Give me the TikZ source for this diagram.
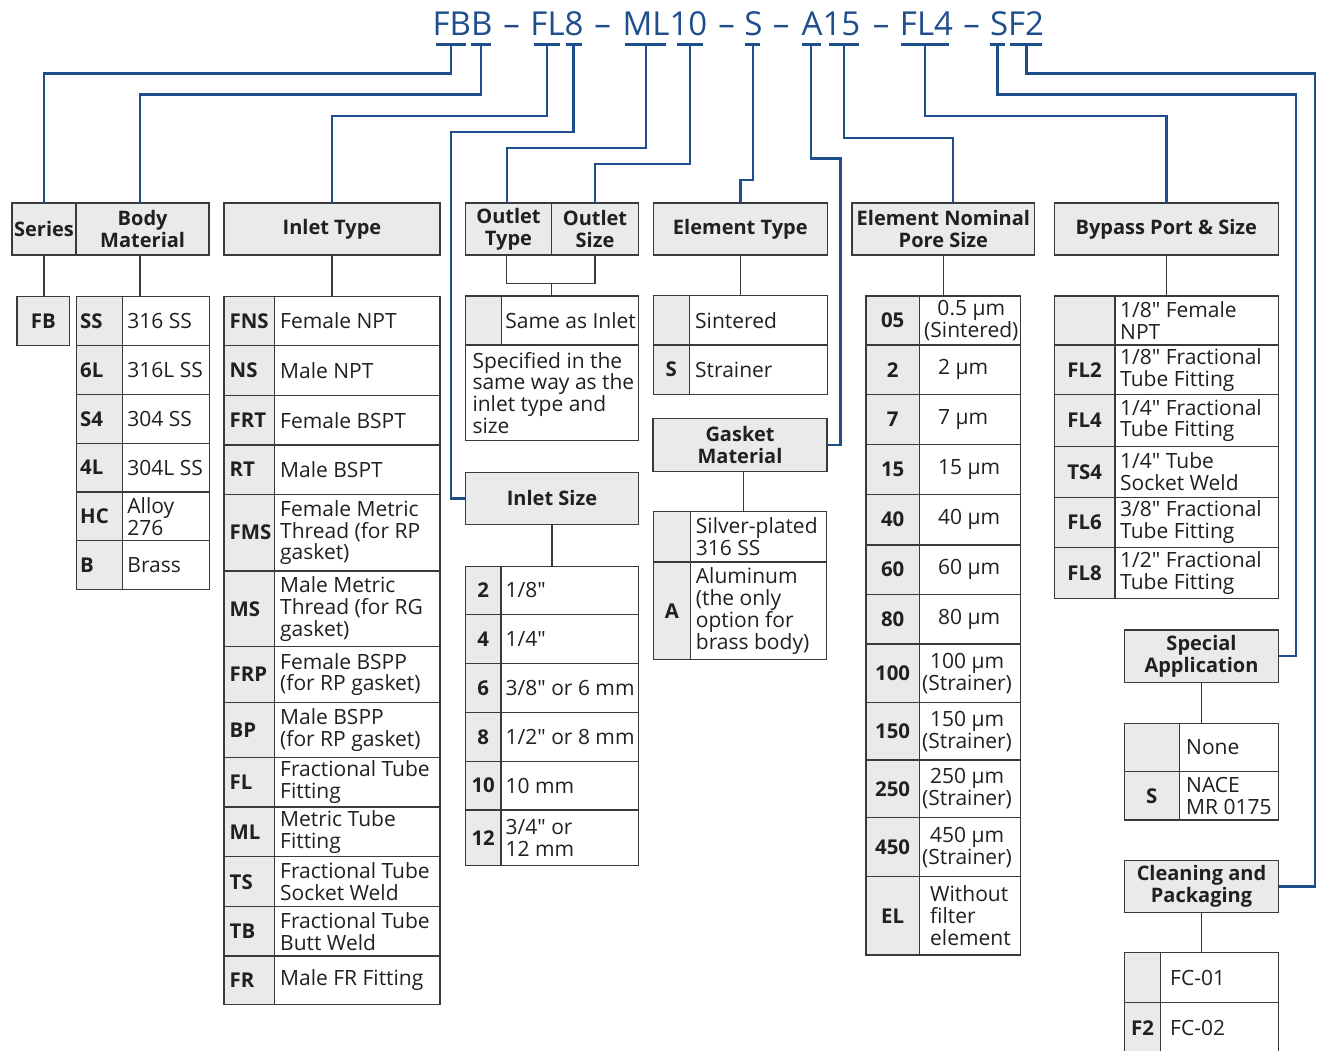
\documentclass[tikz,border=0pt]{standalone}
\usepackage{fontspec}
\setmainfont{Open Sans}[Ligatures=TeXOff]
\definecolor{partblue}{HTML}{1F4E8D}
\definecolor{boxline}{HTML}{3A3A3A}
\definecolor{codefill}{HTML}{E9EAEB}
\definecolor{inkc}{HTML}{231F20}
\tikzset{
  hdr/.style={draw=boxline, line width=1.5pt, fill=codefill, text=inkc, align=center,
    font=\bfseries\fontsize{20}{22}\selectfont, inner sep=0pt, outer sep=0pt},
  codecell/.style={draw=boxline, line width=1.5pt, fill=codefill, text=inkc,
    font=\bfseries\fontsize{20.4}{22}\selectfont, inner sep=0pt, outer sep=0pt, anchor=north west},
  desccell/.style={draw=boxline, line width=1.5pt, fill=white, text=inkc, align=center,
    font=\fontsize{21}{21.8}\selectfont, inner sep=0pt, outer sep=0pt, anchor=north west},
  codetxt/.style={text=inkc, font=\bfseries\fontsize{20.4}{22}\selectfont, inner sep=0pt, anchor=west},
  desctxt/.style={text=inkc, font=\fontsize{21}{21.8}\selectfont, align=left, inner sep=0pt, anchor=west},
  link/.style={draw=boxline, line width=1.5pt},
  bus/.style={draw=partblue, line width=2.4pt},
  ptitle/.style={text=partblue, font=\fontsize{33}{36}\selectfont, inner sep=0pt, anchor=base}
}
\begin{document}
\begin{tikzpicture}[x=1pt,y=-1pt]
  \useasboundingbox (0,0) rectangle (1317,1050);
  \clip (0,0) rectangle (1317,1050);

  % part number
  \foreach \t/\x [count=\i] in {FBB/462.5, FL8/557, ML10/665, S/753.5, A15/831, FL4/926.5, SF2/1017}
    \node[ptitle] (t\i) at (\x,35) {\t};
  \foreach \x [count=\i] in {511.5, 602.5, 726.5, 781, 881, 971.5}
    \node[ptitle] (d\i) at (\x,35) {–};
  \foreach \a/\b [count=\i] in {435.7/465.9, 471/491, 533.8/559.8, 565.7/581.6, 625.3/666.4, 677.3/702.5,
      745.2/760.3, 801.5/820.8, 829.1/859.3, 900.5/949.1, 990.2/1004.5, 1010.4/1042.2}{
    \draw[bus] (\a,44.3) -- (\b,44.3);
    \coordinate (u\i) at ({(\a+\b)/2},44.3);
  }

  % headers
  \node[hdr, minimum width=64pt, minimum height=52pt] (series) at (44,229) {Series};
  \node[hdr, minimum width=133pt, minimum height=52pt] (body) at (142.65,229) {Body\\Material};
  \node[hdr, minimum width=216pt, minimum height=52pt] (inlettype) at (332,229) {Inlet Type};
  \node[hdr, minimum width=86.4pt, minimum height=52pt] (outtype) at (508.5,229) {Outlet\\Type};
  \node[hdr, minimum width=86.6pt, minimum height=52pt] (outsize) at (595,229) {Outlet\\Size};
  \node[hdr, minimum width=174pt, minimum height=52pt] (eltype) at (740.3,229) {Element Type};
  \node[hdr, minimum width=182.7pt, minimum height=52pt] (pore) at (943.35,229) {Element Nominal\\Pore Size};
  \node[hdr, minimum width=224pt, minimum height=52pt] (bypass) at (1166.3,229) {Bypass Port \& Size};
  \node[hdr, minimum width=173.7pt, minimum height=53pt] (gasket) at (740,445.2) {Gasket\\Material};
  \node[hdr, minimum width=173.4pt, minimum height=52pt] (inletsize) at (552,498.3) {Inlet Size};
  \node[hdr, minimum width=154.4pt, minimum height=52.3pt] (special) at (1201.5,656.2) {Special\\Application};
  \node[hdr, minimum width=154.4pt, minimum height=52.4pt] (cleaning) at (1201.5,886.5) {Cleaning and\\Packaging};

  % series
  \node[codecell, minimum width=52.7pt, minimum height=48.6pt] (fb) at (17,296.7) {FB};

  % body material
  \foreach \ya/\yb/\code/\desc [count=\i] in {296.7/345.3/SS/316 SS, 345.3/394.3/6L/316L SS,
      394.3/443.3/S4/304 SS, 443.3/492/4L/304L SS, 492/540.7/HC/{Alloy\\276}, 540.7/589.3/B/Brass}{
    \node[codecell, minimum width=46.4pt, minimum height={\yb-\ya}] (bc\i) at (76.3,\ya) {};
    \node[desccell, minimum width=86.6pt, minimum height={\yb-\ya}] (bd\i) at (122.7,\ya) {};
    \node[codetxt] (bk\i) at ([xshift=3.7pt]bc\i.west) {\code};
    \node[desctxt] (bt\i) at ([xshift=4.5pt]bd\i.west) {\desc};
  }

  % inlet type
  \foreach \ya/\yb/\code/\desc [count=\i] in {296.7/345.3/FNS/Female NPT, 345.3/395.3/NS/Male NPT,
      395.3/445/FRT/Female BSPT, 445/494.3/RT/Male BSPT,
      494.3/571/FMS/{Female Metric\\Thread (for RP\\gasket)}, 571/646.7/MS/{Male Metric\\Thread (for RG\\gasket)},
      646.7/702.3/FRP/{Female BSPP\\(for RP gasket)}, 702.3/757.7/BP/{Male BSPP\\(for RP gasket)},
      757.7/807/FL/{Fractional Tube\\Fitting}, 807/856.7/ML/{Metric Tube\\Fitting},
      856.7/906.7/TS/{Fractional Tube\\Socket Weld}, 906.7/956/TB/{Fractional Tube\\Butt Weld},
      956/1004.3/FR/Male FR Fitting}{
    \node[codecell, minimum width=50.7pt, minimum height={\yb-\ya}] (ic\i) at (224,\ya) {};
    \node[desccell, minimum width=165.3pt, minimum height={\yb-\ya}] (id\i) at (274.7,\ya) {};
    \node[codetxt] (ik\i) at ([xshift=5.5pt]ic\i.west) {\code};
    \node[desctxt] (it\i) at ([xshift=5.3pt]id\i.west) {\desc};
  }

  % outlet
  \node[codecell, minimum width=36.4pt, minimum height=49pt] (oc1) at (465.3,296) {};
  \node[desccell, minimum width=136.6pt, minimum height=49pt] (od1) at (501.7,296) {};
  \node[desctxt] (ot1) at ([xshift=3.5pt]od1.west) {Same as Inlet};
  \node[desccell, minimum width=173pt, minimum height=95.7pt] (od2) at (465.3,345) {};
  \node[desctxt] (ot2) at ([xshift=7pt]od2.west) {Specified in the\\same way as the\\inlet type and\\size};

  % element type
  \foreach \ya/\yb/\code/\desc [count=\i] in {295.3/345/{}/Sintered, 345/394.3/S/Strainer}{
    \node[codecell, minimum width=36pt, minimum height={\yb-\ya}] (ec\i) at (653.3,\ya) {\code};
    \node[desccell, minimum width=138pt, minimum height={\yb-\ya}] (ed\i) at (689.3,\ya) {};
    \node[desctxt] (et\i) at ([xshift=5.7pt]ed\i.west) {\desc};
  }

  % gasket material
  \foreach \ya/\yb/\code/\desc [count=\i] in {511.7/562/{}/{Silver-plated\\316 SS},
      562/659.7/A/{Aluminum\\(the only\\option for\\brass body)}}{
    \node[codecell, minimum width=37.4pt, minimum height={\yb-\ya}] (gc\i) at (653.3,\ya) {\code};
    \node[desccell, minimum width=136pt, minimum height={\yb-\ya}] (gd\i) at (690.7,\ya) {};
    \node[desctxt] (gt\i) at ([xshift=5pt]gd\i.west) {\desc};
  }

  % inlet size
  \foreach \ya/\yb/\code/\desc [count=\i] in {566.3/614.3/2/{1/8"}, 614.3/663.3/4/{1/4"},
      663.3/712.3/6/{3/8" or 6 mm}, 712.3/761.3/8/{1/2" or 8 mm}, 761.3/810/10/10 mm,
      810/865.3/12/{3/4" or\\12 mm}}{
    \node[codecell, minimum width=35.7pt, minimum height={\yb-\ya}] (sc\i) at (465.3,\ya) {\code};
    \node[desccell, minimum width=137.7pt, minimum height={\yb-\ya}] (sd\i) at (501,\ya) {};
    \node[desctxt] (st\i) at ([xshift=4.5pt]sd\i.west) {\desc};
  }

  % pore size
  \foreach \ya/\yb/\code/\dx/\al/\desc [count=\i] in {296/345/05/4.7/center/{0.5 µm\\(Sintered)},
      345/394.3/2/18.7/left/2 µm, 394.3/444.7/7/18.7/left/7 µm, 444.7/494.3/15/18.7/left/15 µm,
      494.3/545/40/18.7/left/40 µm, 545/594.3/60/18.7/left/60 µm, 594.3/644/80/18.7/left/80 µm,
      644/702.7/100/2.7/center/{100 µm\\(Strainer)}, 702.7/760/150/2.7/center/{150 µm\\(Strainer)},
      760/817.7/250/2.7/center/{250 µm\\(Strainer)}, 817.7/876.7/450/2.7/center/{450 µm\\(Strainer)},
      876.7/955/EL/10.7/left/{Without\\filter\\element}}{
    \node[codecell, minimum width=53.3pt, minimum height={\yb-\ya}] (pc\i) at (866,\ya) {\code};
    \node[desccell, minimum width=101.2pt, minimum height={\yb-\ya}] (pd\i) at (919.3,\ya) {};
    \node[desctxt, align=\al] (pt\i) at ([xshift=\dx pt]pd\i.west) {\desc};
  }

  % bypass port
  \foreach \ya/\yb/\code/\desc [count=\i] in {296/345/{}/{1/8" Female\\NPT},
      345/394.3/FL2/{1/8" Fractional\\Tube Fitting}, 394.3/446.7/FL4/{1/4" Fractional\\Tube Fitting},
      446.7/497.3/TS4/{1/4" Tube\\Socket Weld}, 497.3/547.3/FL6/{3/8" Fractional\\Tube Fitting},
      547.3/598.3/FL8/{1/2" Fractional\\Tube Fitting}}{
    \node[codecell, minimum width=60.7pt, minimum height={\yb-\ya}] (yc\i) at (1054.3,\ya) {\code};
    \node[desccell, minimum width=163.5pt, minimum height={\yb-\ya}] (yd\i) at (1115,\ya) {};
    \node[desctxt] (yt\i) at ([xshift=5pt]yd\i.west) {\desc};
  }

  % special application
  \foreach \ya/\yb/\code/\desc [count=\i] in {723.3/771.7/{}/None, 771.7/820/S/{NACE\\MR 0175}}{
    \node[codecell, minimum width=55pt, minimum height={\yb-\ya}] (ac\i) at (1124.3,\ya) {\code};
    \node[desccell, minimum width=99.4pt, minimum height={\yb-\ya}] (ad\i) at (1179.3,\ya) {};
    \node[desctxt] (at\i) at ([xshift=6.7pt]ad\i.west) {\desc};
  }

  % cleaning and packaging
  \foreach \ya/\yb/\code/\desc [count=\i] in {952.7/1002.7/{}/FC-01, 1002.7/1052.7/F2/FC-02}{
    \node[codecell, minimum width=36.4pt, minimum height={\yb-\ya}] (cc\i) at (1124.3,\ya) {\code};
    \node[desccell, minimum width=118pt, minimum height={\yb-\ya}] (cd\i) at (1160.7,\ya) {};
    \node[desctxt] (ct\i) at ([xshift=9.3pt]cd\i.west) {\desc};
  }

  % header to table
  \draw[link] (series.south) -- (series.south |- fb.north);
  \draw[link] ([xshift=-2.7pt]body.south) -- ([xshift=-2.7pt]body.south |- bc1.north);
  \draw[link] (inlettype.south) -- (inlettype.south |- ic1.north);
  \draw[link] ([xshift=-1.8pt]outtype.south) -- ++(0,28.3) -| (outsize.south);
  \draw[link] (outtype.south east) ++(0,28.3) -- (outtype.south east |- oc1.north);
  \draw[link] (eltype.south) -- (eltype.south |- ec1.north);
  \draw[link] ([xshift=3.3pt]gasket.south) -- ([xshift=3.3pt]gasket.south |- gc1.north);
  \draw[link] (inletsize.south) -- (inletsize.south |- sc1.north);
  \draw[link] (pore.south) -- (pore.south |- pc1.north);
  \draw[link] (bypass.south) -- (bypass.south |- yc1.north);
  \draw[link] (special.south) -- (special.south |- ac1.north);
  \draw[link] (cleaning.south) -- (cleaning.south |- cc1.north);

  % code letters to headers
  \draw[bus] (u1) -- ++(0,29) -| (series.north);
  \draw[bus] (u2) -- ++(0,50) -| ([xshift=-2.7pt]body.north);
  \draw[bus] (u3) -- ++(0,71.7) -| (inlettype.north);
  \draw[bus] (u4) -- ++(0,87.4) -- ++(-122.4,0) |- (inletsize.west);
  \draw[bus] (u5) -- ++(0,103.7) -| ([xshift=-1.8pt]outtype.north);
  \draw[bus] (u6) -- ++(0,119.7) -| (outsize.north);
  \draw[bus] (u7) -- ++(0,135.7) -| (eltype.north);
  \draw[bus] (u8) -- ++(0,114) -- ++(29.3,0) |- (gasket.east);
  \draw[bus] (u9) -- ++(0,93.4) -| ([xshift=9.7pt]pore.north);
  \draw[bus] (u10) -- ++(0,71.7) -| (bypass.north);
  \draw[bus] (u11) -- ++(0,50) -- ++(298.5,0) |- (special.east);
  \draw[bus] (u12) -- ++(0,29) -- ++(288.5,0) |- (cleaning.east);
\end{tikzpicture}
\end{document}
